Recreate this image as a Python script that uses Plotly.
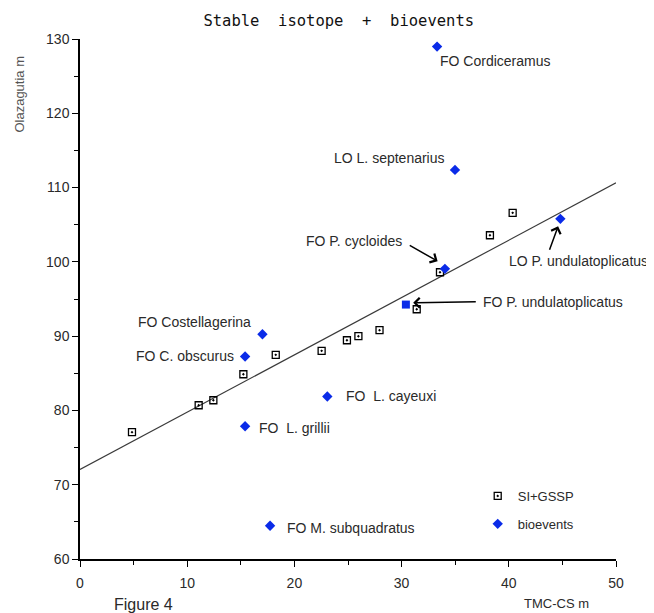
import plotly.graph_objects as go

# ---- data ----
si_x = [4.85, 11.07, 12.44, 15.24, 18.26, 22.54, 24.9, 25.97, 27.94, 31.41, 33.58, 38.24, 40.36]
si_y = [77.07, 80.7, 81.37, 84.87, 87.48, 88.02, 89.45, 89.99, 90.8, 93.62, 98.6, 103.58, 106.6]

bio_names = ["FO Cordiceramus", "LO L. septenarius", "FO P. cycloides", "LO P. undulatoplicatus",
             "FO P. undulatoplicatus", "FO Costellagerina", "FO C. obscurus", "FO  L. cayeuxi",
             "FO  L. grillii", "FO M. subquadratus"]
bio_x = [33.31, 34.98, 34.04, 44.81, 30.4, 17.02, 15.4, 23.07, 15.4, 17.73]
bio_y = [128.98, 112.38, 99.06, 105.79, 94.25, 90.26, 87.25, 81.87, 77.87, 64.47]
bio_symbols = ["diamond", "diamond", "diamond", "diamond", "square", "diamond", "diamond",
               "diamond", "diamond", "diamond"]

# label anchor positions (data units) and alignment
label_x = [33.38, 34.2, 30.18, 39.8, 37.4, 16.1, 14.57, 24.6, 16.54, 19.14]
label_y = [127.0, 114.0, 102.77, 100.08, 94.62, 91.87, 87.39, 81.91, 77.6, 64.24]
label_anchor = ["left", "right", "right", "left", "left", "right", "right", "left", "left", "left"]

# arrows: head (x, y) and tail (ax, ay) in data units
arrow_head_x = [33.36, 31.08, 44.6]
arrow_head_y = [100.08, 94.48, 104.79]
arrow_tail_x = [30.62, 37.06, 43.75]
arrow_tail_y = [102.33, 94.62, 101.43]

fit_x = [0, 50]
fit_y = [72.05, 110.63]

x_ticks = [0, 10, 20, 30, 40, 50]
y_ticks = [60, 70, 80, 90, 100, 110, 120, 130]

FONT = "Liberation Sans, Arial, sans-serif"
TXT = "#2a2a2a"

fig = go.Figure()

fig.add_trace(go.Scatter(
    x=fit_x, y=fit_y, mode="lines", line=dict(color="#3a3a3a", width=1.2),
    showlegend=False, hoverinfo="skip"))

fig.add_trace(go.Scatter(
    x=si_x, y=si_y, mode="markers", name="SI+GSSP", legendgroup="a",
    marker=dict(symbol="square-open-dot", size=7, color="black", line=dict(width=1.3, color="black"))))

fig.add_trace(go.Scatter(
    x=bio_x, y=bio_y, mode="markers", name="bioevents", legendgroup="b",
    marker=dict(symbol=bio_symbols, size=8, color="#0a2be8", line=dict(width=0))))

annotations = []
for name, lx, ly, anc in zip(bio_names, label_x, label_y, label_anchor):
    annotations.append(dict(x=lx, y=ly, xref="x", yref="y", text=name, showarrow=False,
                            xanchor=anc, yanchor="middle",
                            font=dict(family=FONT, size=14, color=TXT)))

for hx, hy, tx, ty in zip(arrow_head_x, arrow_head_y, arrow_tail_x, arrow_tail_y):
    annotations.append(dict(x=hx, y=hy, ax=tx, ay=ty, xref="x", yref="y", axref="x", ayref="y",
                            text="", showarrow=True, arrowhead=4, arrowsize=1.3, arrowwidth=1.5,
                            arrowcolor="black", standoff=0, startstandoff=0))

annotations += [
    dict(x=-0.112, y=0.895, xref="paper", yref="paper", text="Olazagutia m", textangle=-90,
         showarrow=False, xanchor="center", yanchor="middle",
         font=dict(family=FONT, size=13, color="#555555")),
    dict(x=0.889, y=-0.085, xref="paper", yref="paper", text="TMC-CS m", showarrow=False,
         xanchor="center", yanchor="middle", font=dict(family=FONT, size=13, color=TXT)),
    dict(x=0.118, y=-0.088, xref="paper", yref="paper", text="Figure 4", showarrow=False,
         xanchor="center", yanchor="middle", font=dict(family=FONT, size=16, color=TXT)),
]

axis_common = dict(showline=True, linecolor="black", linewidth=1.5, ticks="outside",
                   ticklen=6, tickwidth=1.3, tickcolor="black", showgrid=False, zeroline=False,
                   tickfont=dict(family=FONT, size=14, color=TXT),
                   minor=dict(ticks="outside", ticklen=4, tickwidth=1.3, tickcolor="black",
                              dtick=5, tick0=0, showgrid=False))

fig.update_layout(
    width=646, height=605,
    margin=dict(l=72, r=38, t=31, b=54),
    paper_bgcolor="white", plot_bgcolor="white",
    title=dict(text="Stable  isotope  +  bioevents", x=0.512, xanchor="center",
               y=0.980, yanchor="middle", font=dict(family="DejaVu Sans Mono", size=15.5, color="#111")),
    xaxis=dict(range=[0, 50], tickvals=x_ticks, ticklabelstandoff=4, **axis_common),
    yaxis=dict(range=[60, 130], tickvals=y_ticks, **axis_common),
    legend=dict(x=0.742, y=0.15, xanchor="left", yanchor="top", bgcolor="rgba(0,0,0,0)",
                font=dict(family=FONT, size=13, color=TXT), tracegroupgap=8,
                traceorder="grouped"),
    annotations=annotations,
    showlegend=True,
)

fig.write_html("out.html")
